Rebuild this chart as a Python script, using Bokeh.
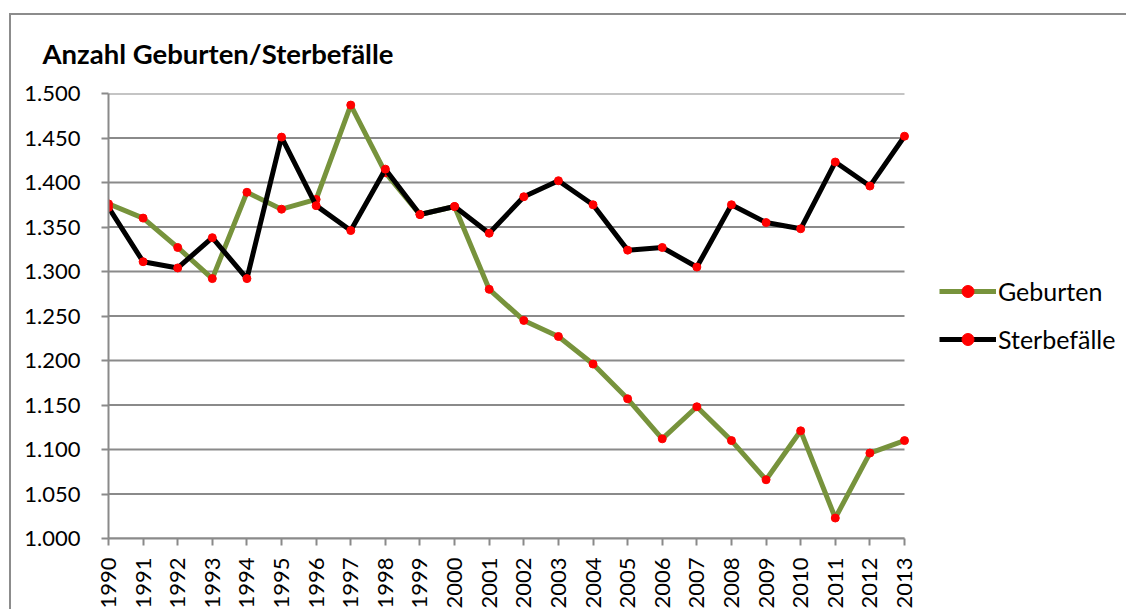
from math import pi
from bokeh.plotting import figure
from bokeh.models import ColumnDataSource, FixedTicker, Legend, LegendItem, Range1d
from bokeh.embed import file_html
from bokeh.resources import INLINE

years = list(range(1990, 2014))
geburten = [1376, 1360, 1327, 1292, 1389, 1370, 1381, 1487, 1411, 1364, 1373, 1280,
            1245, 1227, 1196, 1157, 1112, 1148, 1110, 1066, 1121, 1023, 1096, 1110]
sterbefaelle = [1372, 1311, 1304, 1338, 1292, 1451, 1374, 1346, 1415, 1364, 1373, 1343,
                1384, 1402, 1375, 1324, 1327, 1305, 1375, 1355, 1348, 1423, 1396, 1452]
y_ticks = [1000, 1050, 1100, 1150, 1200, 1250, 1300, 1350, 1400, 1450, 1500]
y_tick_labels = ["1.000", "1.050", "1.100", "1.150", "1.200", "1.250", "1.300",
                 "1.350", "1.400", "1.450", "1.500"]

FONT = "Lato"
GREEN = "#77933C"
GRID = "#8a8a8a"

# layout (pixels)
W, H = 1117, 596
LEFT, TOP, BOTTOM, RIGHT = 97, 77, 72, 4
PLOT_W = 796                      # width used by the category span 1990..2013
frame_w = W - LEFT - RIGHT
span = years[-1] - years[0]
x_end = years[0] + span * frame_w / PLOT_W

src = ColumnDataSource(dict(year=years, geb=geburten, ster=sterbefaelle))
grid_src = ColumnDataSource(dict(x0=[years[0]] * len(y_ticks), x1=[years[-1]] * len(y_ticks),
                                 y=y_ticks))

p = figure(width=W, height=H, output_backend="svg", toolbar_location=None,
           x_range=Range1d(years[0], x_end), y_range=Range1d(y_ticks[0], y_ticks[-1]),
           min_border_left=LEFT, min_border_right=RIGHT, min_border_top=TOP,
           min_border_bottom=BOTTOM)
p.margin = (13, 0, 0, 9)
p.styles = {"border-top": "2px solid #8c8c8c", "border-left": "2px solid #8c8c8c"}
p.outline_line_color = None
p.background_fill_color = "white"
p.border_fill_color = "white"

p.title.text = "Anzahl Geburten/Sterbefälle"
p.title.text_font = FONT
p.title.text_font_size = "27.5px"
p.title.text_font_style = "bold"
p.title.text_color = "black"
p.title.vertical_align = "top"
p.title.align = "left"
p.title.offset = -66
p.title.standoff = 43

# grid lines limited to the category span
p.xgrid.visible = False
p.ygrid.visible = False
p.segment(x0="x0", x1="x1", y0="y", y1="y", source=grid_src, line_color=GRID, line_width=2)

# axes
p.yaxis.ticker = FixedTicker(ticks=y_ticks)
p.yaxis.major_label_overrides = {t: l for t, l in zip(y_ticks, y_tick_labels)}
p.xaxis.ticker = FixedTicker(ticks=years)
p.xaxis.bounds = (years[0], years[-1])
p.xaxis.major_label_orientation = pi / 2
for ax in (p.xaxis, p.yaxis):
    ax.axis_line_color = GRID
    ax.axis_line_width = 2
    ax.major_tick_line_color = GRID
    ax.major_tick_line_width = 2
    ax.major_tick_in = 0
    ax.major_tick_out = 7
    ax.minor_tick_line_color = None
    ax.major_label_text_font = FONT
    ax.major_label_text_font_size = "22px"
    ax.major_label_text_color = "black"
p.yaxis.major_label_standoff = 21
p.xaxis.major_label_standoff = 12

g_line = p.line("year", "geb", source=src, line_color=GREEN, line_width=5)
g_pts = p.scatter("year", "geb", source=src, size=8, fill_color="red", line_color="red")
s_line = p.line("year", "ster", source=src, line_color="black", line_width=5)
s_pts = p.scatter("year", "ster", source=src, size=8, fill_color="red", line_color="red")

legend = Legend(items=[LegendItem(label="Geburten", renderers=[g_line, g_pts]),
                       LegendItem(label="Sterbefälle", renderers=[s_line, s_pts])],
                location=(831, 184), orientation="vertical")
legend.border_line_color = None
legend.background_fill_alpha = 0
legend.padding = 0
legend.margin = 0
legend.glyph_width = 57
legend.glyph_height = 30
legend.label_height = 30
legend.spacing = 18
legend.label_standoff = 2
legend.label_text_font = FONT
legend.label_text_font_size = "25px"
legend.label_text_color = "black"
p.add_layout(legend, "center")

open("out.html", "w").write(file_html(p, INLINE))
